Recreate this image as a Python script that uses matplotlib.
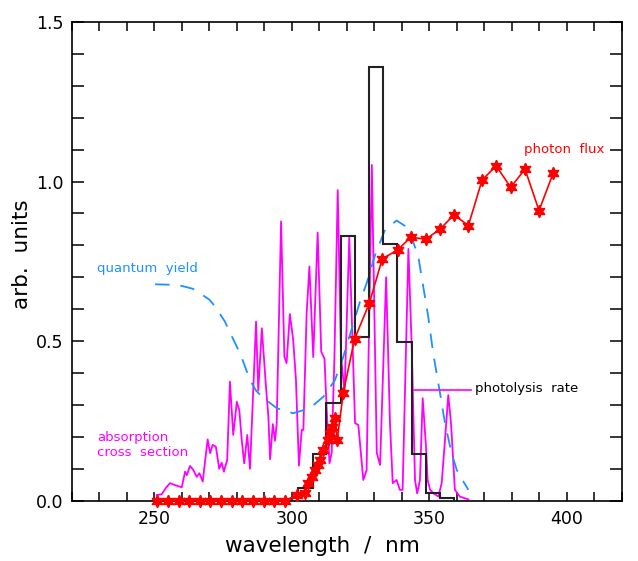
import matplotlib
matplotlib.use("Agg")
import matplotlib.pyplot as plt
from matplotlib.ticker import MultipleLocator

# ---------------- data ----------------
# absorption cross section (magenta)
abs_wl = [250.9, 252.7, 254.2, 255.7, 257.5, 260.0, 261.2, 261.8, 263.0, 264.2,
          265.4, 266.4, 267.6, 269.4, 270.3, 271.2, 272.4, 273.6, 274.5, 275.3,
          276.5, 277.5, 278.7, 280.0, 280.9, 281.8, 282.7, 283.8, 284.8, 287.0,
          287.8, 289.1, 290.5, 291.5, 292.1, 293.1, 293.9, 294.5, 296.1, 297.3,
          298.1, 299.3, 300.5, 301.5, 302.6, 303.6, 304.2, 305.4, 306.4, 307.8,
          309.4, 310.7, 311.9, 312.6, 313.7, 314.5, 315.5, 316.7, 317.9, 319.2,
          320.9, 323.0, 324.2, 326.0, 327.2, 329.1, 330.9, 332.1, 334.3, 335.7,
          336.7, 338.1, 339.3, 340.3, 342.4, 343.6, 344.8, 345.6, 346.6, 347.6,
          348.8, 349.4, 350.3, 351.5, 353.3, 354.5, 355.7, 356.9, 357.9, 359.3,
          361.1, 364.2]
abs_val = [0.018, 0.020, 0.040, 0.055, 0.049, 0.042, 0.091, 0.080, 0.109, 0.096,
           0.075, 0.086, 0.060, 0.192, 0.149, 0.175, 0.169, 0.100, 0.119, 0.091,
           0.128, 0.373, 0.206, 0.310, 0.284, 0.190, 0.117, 0.206, 0.100, 0.561,
           0.345, 0.540, 0.370, 0.260, 0.130, 0.240, 0.188, 0.240, 0.875, 0.451,
           0.431, 0.585, 0.504, 0.380, 0.110, 0.222, 0.222, 0.587, 0.734, 0.450,
           0.840, 0.467, 0.445, 0.300, 0.117, 0.150, 0.450, 0.973, 0.450, 0.340,
           0.826, 0.243, 0.237, 0.065, 0.096, 1.052, 0.150, 0.112, 0.700, 0.243,
           0.055, 0.065, 0.034, 0.034, 0.789, 0.483, 0.065, 0.023, 0.065, 0.321,
           0.169, 0.065, 0.034, 0.023, 0.013, 0.055, 0.190, 0.331, 0.243, 0.034,
           0.013, 0.004]

# quantum yield (blue dashed)
qy_wl = [250.3, 255.0, 260.0, 264.0, 267.0, 270.0, 272.0, 275.7, 277.5, 280.0,
         281.8, 284.8, 287.0, 289.1, 294.5, 300.5, 306.6, 311.5, 315.7, 318.5,
         322.4, 324.8, 327.2, 330.3, 333.9, 338.1, 342.4, 346.0, 347.2, 349.6,
         351.5, 353.9, 355.7, 358.1, 360.0, 362.4, 364.2]
qy_val = [0.678, 0.677, 0.673, 0.664, 0.648, 0.630, 0.610, 0.561, 0.527, 0.483,
          0.448, 0.378, 0.345, 0.326, 0.290, 0.274, 0.290, 0.326, 0.378, 0.445,
          0.556, 0.624, 0.681, 0.770, 0.849, 0.878, 0.854, 0.765, 0.702, 0.577,
          0.457, 0.337, 0.243, 0.149, 0.096, 0.060, 0.034]

# photon flux (red stars)
pf_wl = [251.0, 254.9, 258.8, 262.6, 266.5, 270.4, 274.3, 278.1, 282.0, 285.9,
         289.8, 293.6, 297.5, 301.8, 304.8, 306.0, 307.2, 308.4, 309.6, 310.3,
         311.5, 313.3, 313.9, 314.5, 315.7, 316.5, 318.7, 322.8, 328.2, 332.9,
         338.5, 343.3, 348.7, 353.9, 359.0, 364.2, 369.2, 374.3, 379.6, 384.8,
         389.9, 395.1]
pf_val = [0.0, 0.0, 0.0, 0.0, 0.0, 0.0, 0.0, 0.0, 0.0, 0.0,
          0.0, 0.0, 0.0, 0.018, 0.023, 0.055, 0.075, 0.096, 0.112, 0.128,
          0.159, 0.190, 0.211, 0.232, 0.258, 0.190, 0.337, 0.506, 0.619, 0.758,
          0.786, 0.826, 0.819, 0.851, 0.896, 0.862, 1.005, 1.049, 0.982, 1.039,
          0.909, 1.028]

# photolysis rate (black histogram)
pr_edges = [302.4, 307.6, 312.4, 317.9, 322.9, 328.2, 333.1, 338.4, 343.6,
            348.7, 353.9, 359.1]
pr_val = [0.039, 0.146, 0.307, 0.828, 0.512, 1.360, 0.805, 0.498, 0.146,
          0.023, 0.009]

x_ticks = [250, 300, 350, 400]
y_ticks = [0.0, 0.5, 1.0, 1.5]
y_ticklabels = ["0.0", "0.5", "1.0", "1.5"]

# ---------------- plotting ----------------
plt.rcParams['font.family'] = ['DejaVu Sans']
fig = plt.figure(figsize=(6.38, 5.61), dpi=100)
ax = fig.add_axes([71.8 / 638, 60.3 / 561, 550 / 638, 478.7 / 561])

MAG = '#FF00FF'
BLUE = '#1E90FF'
RED = '#FF0000'

ax.plot(abs_wl, abs_val, color=MAG, lw=1.3, zorder=2)
ax.plot(qy_wl, qy_val, color=BLUE, lw=1.3, linestyle=(0, (8, 6)), zorder=2)
ax.stairs(pr_val, pr_edges, baseline=0, color='#222222', lw=1.5, zorder=3)
ax.plot(pf_wl, pf_val, color=RED, lw=1.2, marker=(6, 1, 0), ms=9,
        mfc=RED, mec=RED, zorder=4, clip_on=False)

ax.set_xlim(220, 420)
ax.set_ylim(0, 1.5)
ax.set_xticks(x_ticks)
ax.set_yticks(y_ticks)
ax.set_yticklabels(y_ticklabels)
ax.xaxis.set_minor_locator(MultipleLocator(10))
ax.yaxis.set_minor_locator(MultipleLocator(0.1))

ax.tick_params(axis='both', which='both', direction='in', top=True,
               right=True, width=1.1, labelsize=12.5, colors='black')
ax.tick_params(axis='x', which='both', length=6.5, pad=7)
ax.tick_params(axis='y', which='both', length=8.5, pad=6)
for s in ax.spines.values():
    s.set_linewidth(1.2)

ax.set_xlabel('wavelength  /  nm', fontsize=15.5)
ax.set_ylabel('arb.  units', fontsize=15.5)
ax.xaxis.set_label_coords(0.456, -0.074)
ax.yaxis.set_label_coords(-0.072, 0.515)

# annotations
ax.text(229.2, 0.729, 'quantum  yield', color=BLUE, fontsize=9.5,
        ha='left', va='center')
ax.text(229.2, 0.175, 'absorption\ncross  section', color=MAG, fontsize=9.5,
        ha='left', va='center', linespacing=1.15)
ax.plot([344.4, 365.1], [0.347, 0.347], color=MAG, lw=1.2)
ax.text(366.6, 0.352, 'photolysis  rate', color='black', fontsize=9.5,
        ha='left', va='center')
ax.text(384.4, 1.10, 'photon  flux', color=RED, fontsize=9.5,
        ha='left', va='center')

fig.savefig('out.png', dpi=100)
